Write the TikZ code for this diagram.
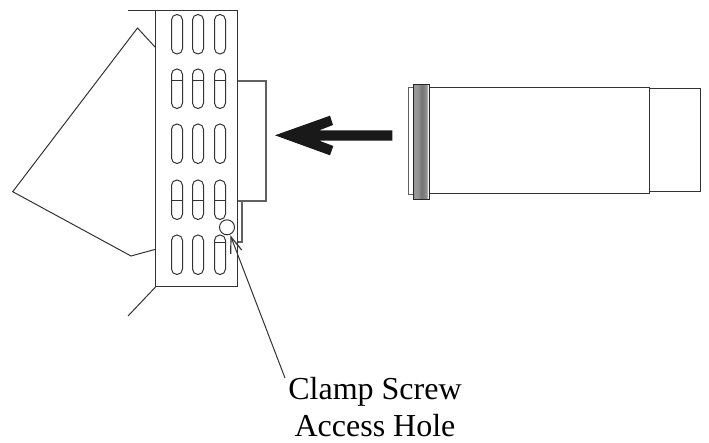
\documentclass[tikz,border=0pt]{standalone}
\usepackage{fontspec}
\usepackage{tikz}
\setmainfont{Liberation Serif}
\tikzset{
    outline/.style={draw=black!80, line width=1pt},
    faint/.style={draw=black!62, line width=1.2pt},
    slot/.style={draw=black!80, line width=1pt, rounded corners=5.4pt},
    barb/.style={draw=black!80, line width=1.2pt},
}
\pgfdeclarehorizontalshading{collarshade}{100bp}{
    color(0bp)=(black!60); color(30bp)=(black!40); color(39bp)=(black!42);
    color(50bp)=(black!55); color(60bp)=(black!48); color(66bp)=(black!40);
    color(70bp)=(black!5); color(73bp)=(black!30); color(100bp)=(black!58)}
\begin{document}
\begin{tikzpicture}[x=1pt, y=-1pt]
    \useasboundingbox (0,0) rectangle (709,443);

    \coordinate (T) at (128,11);
    \coordinate (A) at (155.5,11);
    \coordinate (B) at (237.5,11);
    \coordinate (C) at (237.5,287);
    \coordinate (D) at (155.5,287);
    \coordinate (E) at (128,316);

    \coordinate (p) at (155.5,47.5);
    \coordinate (q) at (137.5,28);
    \coordinate (r) at (12.7,191.7);
    \coordinate (s) at (131,256);
    \coordinate (t) at (155.5,249.3);

    \coordinate (tip) at (231,237);
    \coordinate (leader) at (285,378);

    % panel
    \draw [outline] (T) -- (B) -- (C) -- (D) -- (A);
    \draw [outline] (D) -- (E);
    \draw [outline] (p) -- (q) -- (r) -- (s) -- (t);

    % back box
    \draw [faint] (237.5,81) -- (266,81) -- (266,201) -- (237.5,201);
    \draw [faint] (237.5,201) -- (242,201) -- (242,242) -- (237.5,242);

    % slots
    \foreach \x in {177,198,220}
        \foreach \y in {14.5,69,124,180,235}
            \draw [slot] (\x-5.5,\y) rectangle (\x+5.5,\y+39.5);
    \foreach \x in {177,198,220} {
        \draw [outline] (\x-5.5,81) -- (\x+5.5,81);
        \draw [outline] (\x-5.5,200.7) -- (\x+5.5,200.7);
    }
    \draw [outline] (214.5,243) -- (225.5,243);

    % screw hole and pointer
    \node [circle, draw=black!80, line width=1pt, minimum size=15pt, inner sep=0pt] (hole) at (227,227.3) {};
    \draw [outline] (leader) -- (tip);
    \draw [barb] (230.7,254) -- (tip) -- (241.7,250);

    % big arrow
    \fill [black!90] (275,135.3) -- (330,115.7) -- (333,125) -- (319.3,130.3) -- (392.3,130.3)
        -- (392.3,140.7) -- (319.3,140.7) -- (333.3,146) -- (330,155.3) -- cycle;

    % telescope
    \draw [faint] (413.3,87.3) -- (408.3,87.3) -- (408.3,194.3) -- (413.3,194.3);
    \draw [outline] (429.7,87.7) -- (649.3,87.7) -- (649.3,194) -- (429.7,194);
    \draw [outline] (649.3,89) -- (700.7,89) -- (700.7,192) -- (649.3,192);
    \shade [shading=collarshade] (413.3,84.3) rectangle (429.7,199.7);
    \draw [draw=black!85, line width=1.2pt] (413.3,84.3) rectangle (429.7,199.7);

    \node [align=center, font=\fontsize{32}{37}\selectfont, anchor=north, inner sep=0pt] (screwlabel) at (375,377.5) {Clamp Screw\\Access Hole};
\end{tikzpicture}
\end{document}
